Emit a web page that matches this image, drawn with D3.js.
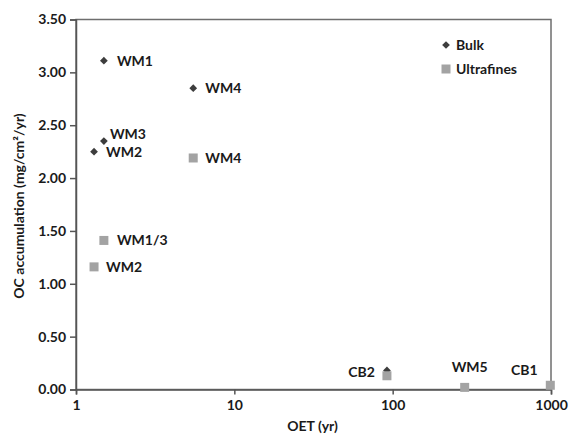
<!DOCTYPE html>
<html>
<head>
<meta charset="utf-8">
<script src="https://cdn.jsdelivr.net/npm/d3@7"></script>
<style>
  body { margin: 0; background: #fff; }
  text { font-family: Lato, "Open Sans", sans-serif; font-weight: bold; fill: #1a1a1a; }
</style>
</head>
<body>
<svg id="chart" width="570" height="435"></svg>
<script>
// values
const bulkOET = [1.5, 1.3, 1.5, 5.5, 92]
const bulkOC = [3.11, 2.25, 2.35, 2.85, 0.18]
const bulkLabels = ["WM1", "WM2", "WM3", "WM4", ""]

const ultraOET = [1.5, 1.3, 5.5, 92, 285, 990]
const ultraOC = [1.41, 1.16, 2.19, 0.13, 0.02, 0.04]
const ultraLabels = ["WM1/3", "WM2", "WM4", "CB2", "WM5", "CB1"]

const xTicks = [1, 10, 100, 1000]
const yTicks = [0, 0.5, 1, 1.5, 2, 2.5, 3, 3.5]

// label placement (px offsets from the point)
const labelPlace = {
    "bulk-WM1": [13, 0, "start"],
    "bulk-WM2": [12, 0, "start"],
    "bulk-WM3": [6, -7, "start"],
    "bulk-WM4": [12, 0, "start"],
    "ultra-WM1/3": [13, 0, "start"],
    "ultra-WM2": [12, 0, "start"],
    "ultra-WM4": [12, 0, "start"],
    "ultra-CB2": [-12, -4, "end"],
    "ultra-WM5": [5, -20, "middle"],
    "ultra-CB1": [-26, -15, "middle"]
}

const svg = d3.select("#chart")
const plotLeft = 76, plotRight = 551, plotTop = 19.5, plotBottom = 389.5

const x = d3.scaleLog().domain([1, 1000]).range([plotLeft, plotRight])
const y = d3.scaleLinear().domain([0, 3.5]).range([plotBottom, plotTop])

// plot frame
svg.append("rect")
    .attr("x", plotLeft).attr("y", plotTop)
    .attr("width", plotRight - plotLeft).attr("height", plotBottom - plotTop)
    .attr("fill", "none").attr("stroke", "#6e6e6e").attr("stroke-width", 1.5)

const yAxis = svg.append("g")
    .attr("transform", `translate(${plotLeft},0)`)
    .call(d3.axisLeft(y).tickValues(yTicks).tickFormat(d3.format(".2f")).tickSize(6).tickPadding(4))
const xAxis = svg.append("g")
    .attr("transform", `translate(0,${plotBottom})`)
    .call(d3.axisBottom(x).tickValues(xTicks).tickFormat(d3.format("d")).tickSize(5).tickPadding(6))

;[yAxis, xAxis].forEach(ax => {
    ax.select(".domain").attr("stroke", "#555").attr("stroke-width", 1.5)
    ax.selectAll(".tick line").attr("stroke", "#555").attr("stroke-width", 1.5)
    ax.selectAll(".tick text").attr("font-size", 14).attr("fill", "#1a1a1a")
})

const bulk = bulkOET.map((d, i) => ({ x: d, y: bulkOC[i], label: bulkLabels[i], key: "bulk-" + bulkLabels[i] }))
const ultra = ultraOET.map((d, i) => ({ x: d, y: ultraOC[i], label: ultraLabels[i], key: "ultra-" + ultraLabels[i] }))

// square turned 45deg, like the spreadsheet diamond marker
const diamond = d3.symbol().type(d3.symbolSquare).size(30)

svg.append("g").selectAll("path")
    .data(bulk)
    .join("path")
    .attr("d", diamond)
    .attr("transform", d => `translate(${x(d.x)},${y(d.y)}) rotate(45)`)
    .attr("fill", "#3d3d3d")

svg.append("g").selectAll("rect")
    .data(ultra)
    .join("rect")
    .attr("x", d => x(d.x) - 4.5).attr("y", d => y(d.y) - 4.5)
    .attr("width", 9).attr("height", 9)
    .attr("fill", "#a3a3a3")

// point labels
svg.append("g").selectAll("text")
    .data(bulk.concat(ultra).filter(d => d.label && labelPlace[d.key]))
    .join("text")
    .attr("x", d => x(d.x) + labelPlace[d.key][0])
    .attr("y", d => y(d.y) + labelPlace[d.key][1])
    .attr("dy", "0.35em")
    .attr("text-anchor", d => labelPlace[d.key][2])
    .attr("font-size", 14)
    .text(d => d.label)

// legend
const legend = svg.append("g").attr("transform", "translate(446,45)")
legend.append("path").attr("d", diamond).attr("transform", "rotate(45)").attr("fill", "#3d3d3d")
legend.append("rect").attr("x", -4.5).attr("y", 24 - 4.5).attr("width", 9).attr("height", 9).attr("fill", "#a3a3a3")
legend.append("text").attr("x", 10).attr("y", 0).attr("dy", "0.35em").attr("font-size", 14).text("Bulk")
legend.append("text").attr("x", 10).attr("y", 24).attr("dy", "0.35em").attr("font-size", 14).text("Ultrafines")

// axis titles
svg.append("text")
    .attr("x", (plotLeft + plotRight) / 2 - 1).attr("y", 431)
    .attr("text-anchor", "middle").attr("font-size", 14)
    .text("OET (yr)")

svg.append("text")
    .attr("transform", "translate(24,206) rotate(-90)")
    .attr("text-anchor", "middle").attr("font-size", 14)
    .text("OC accumulation (mg/cm²/yr)")
</script>
</body>
</html>
